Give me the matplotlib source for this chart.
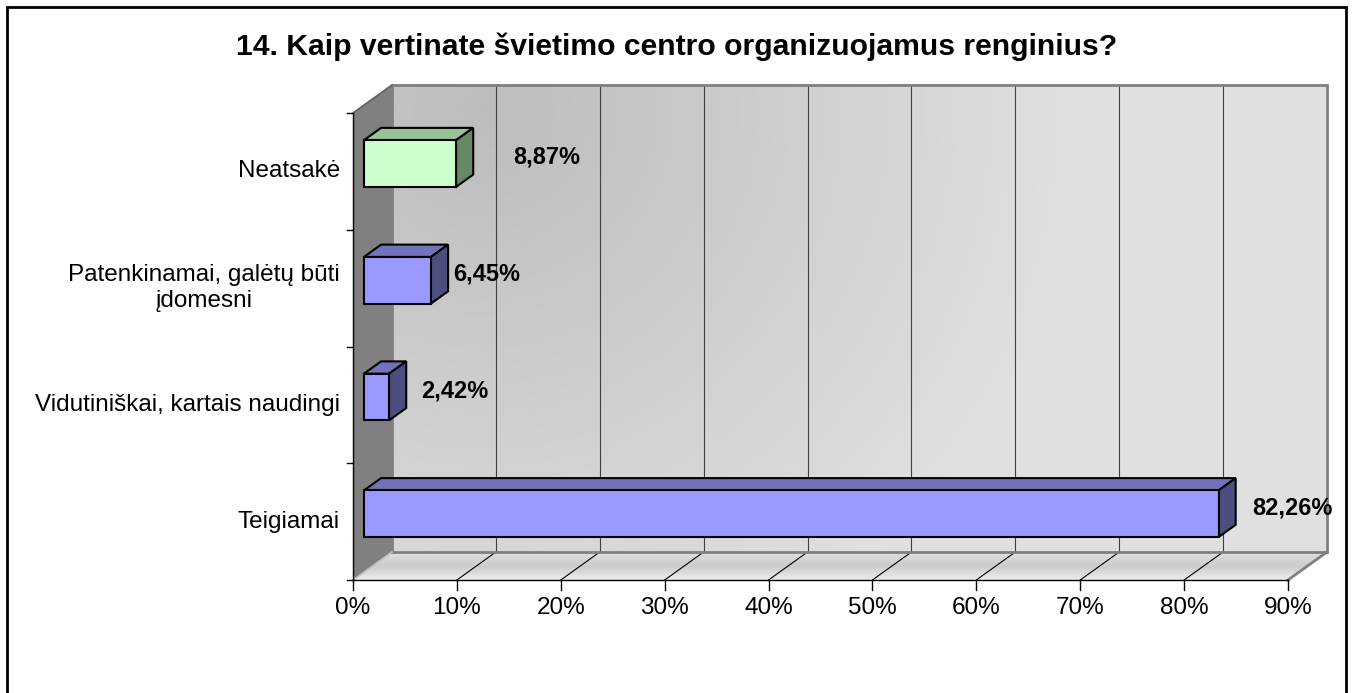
import numpy as np
import matplotlib
matplotlib.use('Agg')
import matplotlib.pyplot as plt
from matplotlib.patches import Polygon, Rectangle

plt.rcParams['font.family'] = ['Liberation Sans', 'DejaVu Sans']

# Chart data (bottom to top, as drawn)
categories = ['Teigiamai', 'Vidutiniškai, kartais naudingi',
              'Patenkinamai, galėtų būti\nįdomesni', 'Neatsakė']
values = [82.26, 2.42, 6.45, 8.87]
value_labels = ['82,26%', '2,42%', '6,45%', '8,87%']
x_ticks = [0, 10, 20, 30, 40, 50, 60, 70, 80, 90]
x_tick_labels = ['0%', '10%', '20%', '30%', '40%', '50%', '60%', '70%', '80%', '90%']
title = '14. Kaip vertinate švietimo centro organizuojamus renginius?'

# Styling
face_cols = ['#9999ff', '#9999ff', '#9999ff', '#ccffcc']
top_cols = ['#7373ba', '#7373ba', '#7373ba', '#99c299']
side_cols = ['#4d4d80', '#4d4d80', '#4d4d80', '#668866']
label_gap = [2.4, 2.3, 1.3, 4.7]   # label offset after bar end, in % units

# 3D look: depth shift of the back wall in data units
DX, DY = 3.754, 0.2398
XMAX = 90
Y0, Y1 = -0.5, len(categories) - 0.5
D0, D1 = 0.28, 0.72   # bar depth range
H = 0.2               # half bar height


def P(x, y, d):
    return (x + d * DX, y + d * DY)


fig = plt.figure(figsize=(13.53, 6.93), dpi=100)
ax = fig.add_axes([0, 0, 1, 1])
ax.axis('off')

# back wall with gradient
gx, gy = np.meshgrid(np.linspace(0, 935, 200), np.linspace(0, 467, 100))
dist = np.hypot(gx - 90, gy - 25)
shade = 0.74 + 0.14 * np.clip(dist / 600, 0, 1)
wall = np.dstack([shade, shade, shade])
ax.imshow(wall, extent=[DX, XMAX + DX, Y0 + DY, Y1 + DY], origin='upper',
          aspect='auto', zorder=1, interpolation='bilinear')
ax.add_patch(Rectangle(P(0, Y0, 1), XMAX, Y1 - Y0, fill=False,
                       ec='#808080', lw=2, zorder=3))
for v in x_ticks[1:-1]:
    ax.plot(*zip(P(v, Y0, 1), P(v, Y1, 1)), color='#404040', lw=0.8, zorder=2)

# floor with gradient
floor = Polygon([P(0, Y0, 0), P(XMAX, Y0, 0), P(XMAX, Y0, 1), P(0, Y0, 1)],
                closed=True, fc='none', ec='none', zorder=1)
ax.add_patch(floor)
rows = np.concatenate([np.linspace(0.88, 0.80, 50), np.linspace(0.80, 0.93, 50)])
fl = np.repeat(rows[:, None], 50, axis=1)
im = ax.imshow(np.dstack([fl, fl, fl]), extent=[0, XMAX + DX, Y0, Y0 + DY],
               origin='upper', aspect='auto', zorder=1, interpolation='bilinear')
im.set_clip_path(floor)
for v in x_ticks[1:-1]:
    ax.plot(*zip(P(v, Y0, 0), P(v, Y0, 1)), color='black', lw=0.8, zorder=2)
ax.plot(*zip(P(XMAX, Y0, 0), P(XMAX, Y0, 1)), color='#808080', lw=2, zorder=3)

# left side wall
ax.add_patch(Polygon([P(0, Y0, 0), P(0, Y1, 0), P(0, Y1, 1), P(0, Y0, 1)],
                     closed=True, fc='#808080', ec='none', zorder=2))
ax.plot(*zip(P(0, Y1, 0), P(0, Y1, 1)), color='#606060', lw=1.2, zorder=3)
ax.plot(*zip(P(0, Y0, 0), P(0, Y0, 1)), color='#c0c0c0', lw=1.2, zorder=3)

# axes lines and ticks
ax.plot([0, 0], [Y0, Y1], color='black', lw=1, zorder=4)
ax.plot([0, XMAX], [Y0, Y0], color='black', lw=1, zorder=4)
for k in range(len(categories) + 1):
    ax.plot([-0.6, 0], [Y0 + k, Y0 + k], color='black', lw=1, zorder=4)
for v, lab in zip(x_ticks, x_tick_labels):
    ax.plot([v, v], [Y0, Y0 - 0.085], color='black', lw=1, zorder=4)
    ax.text(v, Y0 - 0.24, lab, ha='center', va='center', fontsize=17.5)

# category labels
for i, cat in enumerate(categories):
    ax.text(-1.25, i, cat, ha='right', va='center', fontsize=17.5,
            multialignment='center', linespacing=1.25)

# bars
for i, v in enumerate(values):
    top = [P(0, i + H, D0), P(v, i + H, D0), P(v, i + H, D1), P(0, i + H, D1)]
    side = [P(v, i - H, D0), P(v, i + H, D0), P(v, i + H, D1), P(v, i - H, D1)]
    front = [P(0, i - H, D0), P(v, i - H, D0), P(v, i + H, D0), P(0, i + H, D0)]
    for pts, col in ((top, top_cols[i]), (side, side_cols[i]), (front, face_cols[i])):
        ax.add_patch(Polygon(pts, closed=True, fc=col, ec='black', lw=1.5,
                             joinstyle='miter', zorder=5))
    lx, ly = P(v + label_gap[i], i, 0.5)
    ax.text(lx, ly, value_labels[i], ha='left', va='center', fontsize=17,
            fontweight='bold', zorder=6)

# map data units to the picture
ax.set_xlim(-353 / 10.389, 1000 / 10.389)
ax.set_ylim((580 - 693) / 116.75 - 0.5, 580 / 116.75 - 0.5)

fig.text(0.5, 1 - 47 / 693, title, ha='center', va='center',
         fontsize=21.7, fontweight='bold')
fig.add_artist(Rectangle((7 / 1353, -0.01), (1346 - 7) / 1353, 1.01 - 7 / 693,
                         transform=fig.transFigure, fill=False, ec='black', lw=2))

fig.savefig('out.png', dpi=100)
